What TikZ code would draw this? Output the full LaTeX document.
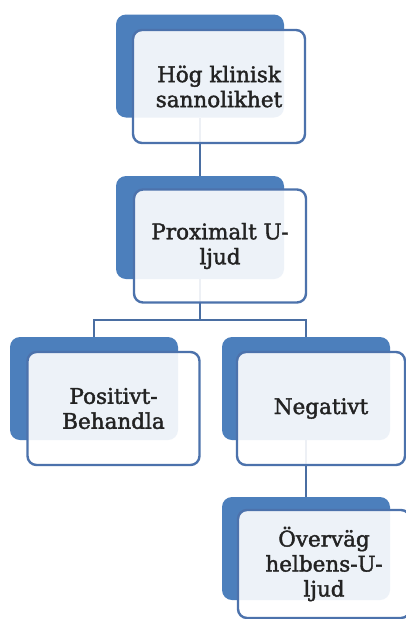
\documentclass[tikz,border=0pt]{standalone}
\usepackage{fontspec}
\setmainfont{DejaVu Serif}
\newfontfamily\lblfont{DejaVu Serif}[FakeBold=1.8]
\definecolor{backblue}{RGB}{76,127,188}
\definecolor{edgeblue}{RGB}{76,114,172}
\definecolor{linkblue}{RGB}{74,110,162}
\definecolor{txt}{RGB}{35,35,35}
\tikzset{
  backbox/.style={fill=backblue, draw=none, rounded corners=10pt, minimum width=168pt, minimum height=103pt, inner sep=0pt},
  frontbox/.style={fill=white, fill opacity=0.9, text opacity=1, draw=edgeblue, draw opacity=1, line width=2.4pt, rounded corners=9pt, minimum width=172pt, minimum height=113pt, inner sep=0pt, align=center, text=txt, font=\lblfont\fontsize{21.5}{25}\selectfont},
  conn/.style={draw=linkblue, line width=2.8pt}
}
\begin{document}
\begin{tikzpicture}[x=1pt,y=-1pt]
\fill[white] (0,0) rectangle (406,619);
\clip (0,0) rectangle (406,619);
% back boxes
\node[backbox] (b1) at (200,66) {};
\node[backbox] (b2) at (200,227.5) {};
\node[backbox] (b3) at (94,388.5) {};
\node[backbox] (b4) at (306,388.5) {};
\node[backbox] (b5) at (306,548.5) {};
% connectors
\coordinate (j) at (200,320);
\draw[conn] (b1.south) -- (b2.north);
\draw[conn] (b2.south) -- (j);
\draw[conn] (j) -| (b3.north);
\draw[conn] (j) -| (b4.north);
\draw[conn] (b4.south) -- (b5.north);
% front boxes
\node[frontbox] (f1) at (219,86.5) {Hög klinisk\\sannolikhet};
\node[frontbox] (f2) at (220,246) {Proximalt U-\\ljud};
\node[frontbox] (f3) at (113.5,408.5) {Positivt-\\Behandla};
\node[frontbox, minimum width=168pt] (f4) at (321,408.5) {Negativt};
\node[frontbox, minimum height=108pt] (f5) at (324,564) {Överväg\\helbens-U-\\ljud};
\end{tikzpicture}
\end{document}
